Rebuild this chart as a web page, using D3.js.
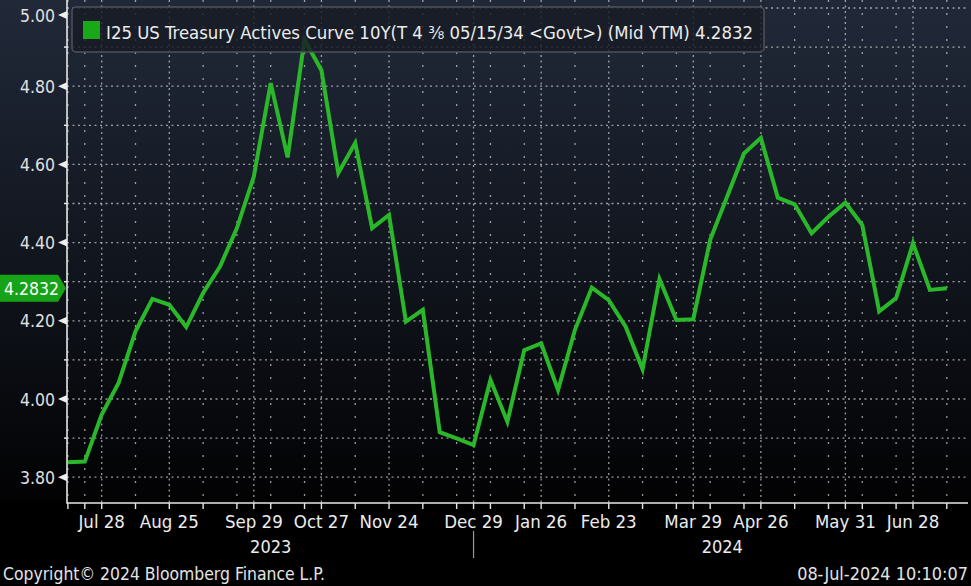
<!DOCTYPE html>
<html>
<head>
<meta charset="utf-8">
<script src="https://cdn.jsdelivr.net/npm/d3@7"></script>
<style>
  body { margin: 0; background: #000; }
  svg { display: block; }
  text { font-family: "DejaVu Sans Condensed", "DejaVu Sans", sans-serif; }
</style>
</head>
<body>
<svg id="chart"></svg>
<script>
// weekly closes, week ending Friday
const weeks = [
  "2023-07-14", "2023-07-21", "2023-07-28", "2023-08-04", "2023-08-11", "2023-08-18", "2023-08-25",
  "2023-09-01", "2023-09-08", "2023-09-15", "2023-09-22", "2023-09-29", "2023-10-06", "2023-10-13",
  "2023-10-20", "2023-10-27", "2023-11-03", "2023-11-10", "2023-11-17", "2023-11-24", "2023-12-01",
  "2023-12-08", "2023-12-15", "2023-12-22", "2023-12-29", "2024-01-05", "2024-01-12", "2024-01-19",
  "2024-01-26", "2024-02-02", "2024-02-09", "2024-02-16", "2024-02-23", "2024-03-01", "2024-03-08",
  "2024-03-15", "2024-03-22", "2024-03-29", "2024-04-05", "2024-04-12", "2024-04-19", "2024-04-26",
  "2024-05-03", "2024-05-10", "2024-05-17", "2024-05-24", "2024-05-31", "2024-06-07", "2024-06-14",
  "2024-06-21", "2024-06-28", "2024-07-05", "2024-07-12"
];
const yields = [
  3.838, 3.840, 3.960, 4.041, 4.173, 4.256, 4.241,
  4.184, 4.271, 4.339, 4.437, 4.569, 4.808, 4.618,
  4.919, 4.841, 4.578, 4.655, 4.437, 4.471, 4.198,
  4.228, 3.915, 3.899, 3.882, 4.049, 3.942, 4.125,
  4.142, 4.023, 4.177, 4.285, 4.253, 4.185, 4.076,
  4.307, 4.202, 4.204, 4.407, 4.517, 4.628, 4.668,
  4.515, 4.498, 4.424, 4.466, 4.502, 4.445, 4.224,
  4.258, 4.398, 4.279, 4.2832
];
const lastValue = 4.2832;

// labelled x ticks and the other (minor) grid dates
const majorTicks = ["2023-07-28", "2023-08-25", "2023-09-29", "2023-10-27", "2023-11-24", "2023-12-29",
  "2024-01-26", "2024-02-23", "2024-03-29", "2024-04-26", "2024-05-31", "2024-06-28"];
const minorTicks = ["2023-07-14", "2023-07-21", "2023-08-11", "2023-09-08", "2023-09-22", "2023-10-06",
  "2023-10-20", "2023-11-10", "2023-12-08", "2023-12-22", "2024-01-05", "2024-01-19", "2024-02-09",
  "2024-03-08", "2024-03-22", "2024-04-05", "2024-04-19", "2024-05-10", "2024-05-24", "2024-06-07",
  "2024-06-21", "2024-07-12"];
const yearLabels = ["2023", "2024"];
const yearAt = ["2023-10-06", "2024-04-10"];
const yearBreak = "2023-12-29";

const yMajor = [3.8, 4.0, 4.2, 4.4, 4.6, 4.8, 5.0];
const yMinor = [3.9, 4.1, 4.3, 4.5, 4.7, 4.9];

const legendLabel = "I25 US Treasury Actives Curve 10Y(T 4 \u215c 05/15/34 <Govt>) (Mid YTM) 4.2832";

const width = 971, height = 586;
const plotLeft = 67, plotRight = 968, plotTop = 0, plotBottom = 503;

const parse = d3.utcParse("%Y-%m-%d");
const fmt = d3.utcFormat("%b %d");

const svg = d3.select("#chart").attr("width", width).attr("height", height);

const x = d3.scaleUtc()
  .domain([parse("2023-07-28"), parse("2024-06-28")])
  .range([101.7, 913]);
const y = d3.scaleLinear()
  .domain([3.8, 5.0])
  .range([477.2, 8]);

// background, navy at the top fading to black
const defs = svg.append("defs");
const grad = defs.append("linearGradient")
  .attr("id", "bg").attr("x1", 0).attr("y1", 0).attr("x2", 0).attr("y2", 1);
grad.append("stop").attr("offset", "0%").attr("stop-color", "#212939");
grad.append("stop").attr("offset", "55%").attr("stop-color", "#10141c");
grad.append("stop").attr("offset", "100%").attr("stop-color", "#020203");

svg.append("rect").attr("width", width).attr("height", height).attr("fill", "#000");
svg.append("rect").attr("width", width).attr("height", plotBottom).attr("fill", "url(#bg)");

// horizontal grid
const grid = svg.append("g").attr("stroke", "#c9c9c9").attr("stroke-opacity", 0.75);
grid.selectAll("line.h")
  .data(yMajor.concat(yMinor))
  .join("line")
  .attr("x1", plotLeft).attr("x2", plotRight)
  .attr("y1", d => y(d)).attr("y2", d => y(d))
  .attr("stroke-width", 1.3)
  .attr("stroke-dasharray", "2,3.5");

// vertical grid
grid.selectAll("line.minor")
  .data(minorTicks)
  .join("line")
  .attr("x1", d => x(parse(d))).attr("x2", d => x(parse(d)))
  .attr("y1", plotTop).attr("y2", plotBottom)
  .attr("stroke-width", 1.3)
  .attr("stroke-dasharray", "2,11");
grid.selectAll("line.major")
  .data(majorTicks)
  .join("line")
  .attr("x1", d => x(parse(d))).attr("x2", d => x(parse(d)))
  .attr("y1", plotTop).attr("y2", plotBottom)
  .attr("stroke-width", 1.3)
  .attr("stroke-dasharray", "2,3.5");

// the series
const line = d3.line()
  .x((d, i) => x(parse(weeks[i])))
  .y(d => y(d));
svg.append("path")
  .datum(yields)
  .attr("d", line)
  .attr("fill", "none")
  .attr("stroke", "#2ab82a")
  .attr("stroke-width", 4)
  .attr("stroke-linejoin", "miter");

// axes
svg.append("path")
  .attr("d", `M${plotLeft},${plotTop}V${plotBottom}H${plotRight}`)
  .attr("fill", "none")
  .attr("stroke", "#e6e6e6")
  .attr("stroke-width", 1.6);

svg.selectAll("line.xtick")
  .data(majorTicks.concat(minorTicks))
  .join("line")
  .attr("x1", d => x(parse(d))).attr("x2", d => x(parse(d)))
  .attr("y1", plotBottom).attr("y2", plotBottom + 6)
  .attr("stroke", "#e6e6e6")
  .attr("stroke-width", 1.4);

svg.selectAll("text.xlab")
  .data(majorTicks)
  .join("text")
  .attr("x", d => x(parse(d)))
  .attr("y", 528)
  .attr("text-anchor", "middle")
  .attr("font-size", 18.5)
  .attr("fill", "#ececec")
  .text(d => fmt(parse(d)));

svg.selectAll("text.year")
  .data(yearLabels)
  .join("text")
  .attr("x", (d, i) => x(parse(yearAt[i])))
  .attr("y", 553)
  .attr("text-anchor", "middle")
  .attr("font-size", 18)
  .attr("fill", "#ececec")
  .text(d => d);

svg.append("line")
  .attr("x1", x(parse(yearBreak))).attr("x2", x(parse(yearBreak)))
  .attr("y1", 531).attr("y2", 558)
  .attr("stroke", "#9a9a9a")
  .attr("stroke-width", 1.2);

// y ticks: arrows at labelled values, small ticks between
const yPos = d => Math.max(y(d), 15);
svg.selectAll("path.ytick")
  .data(yMajor)
  .join("path")
  .attr("d", d => `M${plotLeft - 9},${yPos(d)}L${plotLeft},${yPos(d) - 4}L${plotLeft},${yPos(d) + 4}Z`)
  .attr("fill", "#eeeeee");
svg.selectAll("line.yminor")
  .data(yMinor)
  .join("line")
  .attr("x1", plotLeft - 3).attr("x2", plotLeft)
  .attr("y1", d => y(d)).attr("y2", d => y(d))
  .attr("stroke", "#eeeeee")
  .attr("stroke-width", 1.4);
svg.selectAll("text.ylab")
  .data(yMajor)
  .join("text")
  .attr("x", 55)
  .attr("y", d => yPos(d) + 6.5)
  .attr("text-anchor", "end")
  .attr("font-size", 17.5)
  .attr("fill", "#e0e0e0")
  .text(d => d.toFixed(2));

// last value tag
const ty = y(lastValue);
svg.append("path")
  .attr("d", `M0,${ty - 13.5}H58L66,${ty}L58,${ty + 13.5}H0Z`)
  .attr("fill", "#17a317");
svg.append("text")
  .attr("x", 4)
  .attr("y", ty + 6.5)
  .attr("font-size", 17.5)
  .attr("fill", "#ffffff")
  .text(lastValue.toFixed(4));

// legend
const lg = svg.append("g");
lg.append("rect")
  .attr("x", 72).attr("y", 7)
  .attr("width", 692).attr("height", 45)
  .attr("rx", 4)
  .attr("fill", "#171b25")
  .attr("fill-opacity", 0.82)
  .attr("stroke", "#4d525c")
  .attr("stroke-width", 1.5);
lg.append("rect")
  .attr("x", 83).attr("y", 21)
  .attr("width", 17).attr("height", 18)
  .attr("fill", "#18a818");
lg.append("text")
  .attr("x", 106).attr("y", 39)
  .attr("font-size", 18.5)
  .attr("fill", "#ececec")
  .attr("textLength", 647)
  .attr("lengthAdjust", "spacingAndGlyphs")
  .text(legendLabel);

// footer
svg.append("text")
  .attr("x", 3).attr("y", 580)
  .attr("font-size", 17.4)
  .attr("fill", "#e4e4e4")
  .text("Copyright\u00a9 2024 Bloomberg Finance L.P.");
svg.append("text")
  .attr("x", 968).attr("y", 580)
  .attr("text-anchor", "end")
  .attr("font-size", 17.9)
  .attr("fill", "#e4e4e4")
  .text("08-Jul-2024 10:10:07");
</script>
</body>
</html>
